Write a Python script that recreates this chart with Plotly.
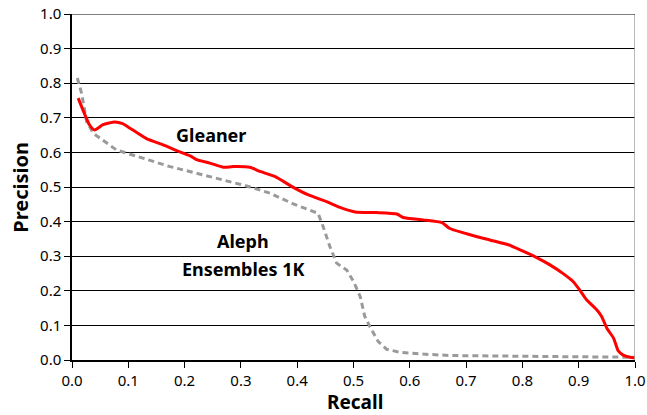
import plotly.graph_objects as go

gleaner_recall = [0.011, 0.031, 0.040, 0.055, 0.076, 0.090, 0.103, 0.133, 0.162, 0.186, 0.210, 0.221, 0.245,
                  0.269, 0.286, 0.316, 0.334, 0.361, 0.393, 0.420, 0.452, 0.476, 0.503, 0.541, 0.577,
                  0.588, 0.624, 0.657, 0.671, 0.707, 0.742, 0.775, 0.799, 0.822, 0.849, 0.873, 0.890,
                  0.902, 0.914, 0.932, 0.941, 0.950, 0.962, 0.970, 0.979, 0.991, 1.0]
gleaner_precision = [0.757, 0.680, 0.665, 0.680, 0.688, 0.683, 0.670, 0.639, 0.622, 0.605, 0.590, 0.579, 0.569,
                     0.557, 0.559, 0.557, 0.545, 0.530, 0.499, 0.477, 0.458, 0.441, 0.428, 0.426, 0.422,
                     0.412, 0.405, 0.397, 0.380, 0.362, 0.347, 0.333, 0.316, 0.299, 0.275, 0.249, 0.227,
                     0.202, 0.174, 0.145, 0.125, 0.092, 0.063, 0.027, 0.014, 0.008, 0.006]

aleph_recall = [0.0095, 0.017, 0.026, 0.038, 0.079, 0.115, 0.174, 0.245, 0.310, 0.352, 0.393, 0.437,
                0.446, 0.458, 0.470, 0.488, 0.500, 0.512, 0.520, 0.529, 0.544, 0.559, 0.583, 0.624,
                0.671, 0.849, 1.0]
aleph_precision = [0.815, 0.771, 0.689, 0.655, 0.607, 0.588, 0.559, 0.530, 0.503, 0.482, 0.451, 0.424,
                   0.386, 0.328, 0.280, 0.260, 0.227, 0.183, 0.126, 0.097, 0.053, 0.031, 0.022, 0.017,
                   0.013, 0.010, 0.008]

tick_vals = [i / 10 for i in range(11)]
tick_text = [f"{v:.1f}" for v in tick_vals]

FONT = "Noto Sans"

fig = go.Figure()
fig.add_trace(go.Scatter(x=aleph_recall, y=aleph_precision, mode="lines",
                         line=dict(color="#9a9a9a", width=3, dash="6px,4px"), showlegend=False))
fig.add_trace(go.Scatter(x=gleaner_recall, y=gleaner_precision, mode="lines",
                         line=dict(color="#ff0000", width=3, shape="spline", smoothing=0.5), showlegend=False))

fig.add_annotation(x=0.247, y=0.651, text="<b>Gleaner</b>", showarrow=False,
                   xanchor="center", yanchor="middle",
                   font=dict(family=FONT, size=18, color="black"))
fig.add_annotation(x=0.304, y=0.343, text="<b>Aleph</b>", showarrow=False,
                   xanchor="center", yanchor="middle",
                   font=dict(family=FONT, size=18, color="black"))
fig.add_annotation(x=0.304, y=0.262, text="<b>Ensembles 1K</b>", showarrow=False,
                   xanchor="center", yanchor="middle",
                   font=dict(family=FONT, size=18, color="black"))

# axis titles
fig.add_annotation(xref="paper", yref="paper", x=-0.093, y=0.5, text="<b>Precision</b>",
                   textangle=-90, showarrow=False, xanchor="center", yanchor="middle",
                   font=dict(family=FONT, size=20, color="black"))
fig.add_annotation(xref="paper", yref="paper", x=0.503, y=-0.1214, text="<b>Recall</b>",
                   showarrow=False, xanchor="center", yanchor="middle",
                   font=dict(family=FONT, size=19, color="black"))

fig.add_shape(type="line", xref="x", yref="y", x0=1, x1=1, y0=0, y1=1,
              line=dict(color="#a0a0a0", width=1.5))
fig.add_shape(type="line", xref="x", yref="y", x0=0, x1=1, y0=1, y1=1,
              line=dict(color="black", width=1))

fig.update_layout(
    width=647, height=415,
    margin=dict(l=72, r=12, t=14, b=55),
    paper_bgcolor="white", plot_bgcolor="white",
    font=dict(family=FONT, size=15, color="black"),
)
fig.update_xaxes(range=[0, 1], tickvals=tick_vals, ticktext=tick_text, showgrid=False,
                 showline=True, linecolor="black", linewidth=1.5, ticks="outside", ticklen=6,
                 tickcolor="black", zeroline=False, automargin=False, ticklabeloverflow="allow",
                 tickfont=dict(family=FONT, size=15))
fig.update_yaxes(range=[0, 1], tickvals=tick_vals, ticktext=tick_text, showgrid=True,
                 gridcolor="black", gridwidth=1, showline=True, linecolor="black", linewidth=1.5,
                 ticks="outside", ticklen=6, tickcolor="black", zeroline=False, automargin=False,
                 ticklabeloverflow="allow", tickfont=dict(family=FONT, size=15))

fig.write_html("out.html", config={"displayModeBar": False},
               post_script="document.body.style.margin='0';document.body.style.overflow='hidden';")
